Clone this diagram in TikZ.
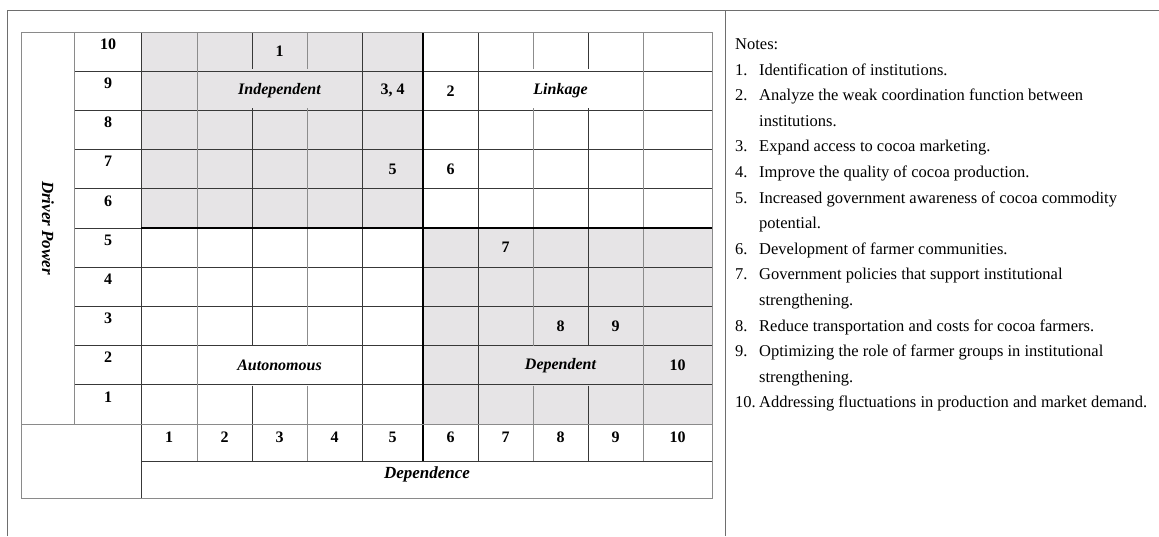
\documentclass[tikz,border=0pt]{standalone}
\usepackage{fontspec}
\setmainfont{Liberation Serif}
\usepackage{tikz}
\usetikzlibrary{positioning,calc}
\definecolor{cShade}{HTML}{E6E4E6}
\definecolor{cFrame}{HTML}{6E6E6E}
\definecolor{cBord}{HTML}{8A8A8A}
\tikzset{
  frame/.style={draw=cFrame, line width=1pt},
  tborder/.style={draw=cBord, line width=1pt},
  gline/.style={draw=black!78, line width=0.9pt},
  gthin/.style={draw=black!45, line width=0.8pt},
  gmid/.style={draw=black, line width=1.8pt},
  tnum/.style={font=\fontsize{16}{16}\selectfont\bfseries, inner sep=0pt},
  qlbl/.style={font=\fontsize{16}{16}\selectfont\bfseries\itshape, inner sep=0pt},
  atitle/.style={font=\fontsize{17}{17}\selectfont\bfseries\itshape, inner sep=0pt},
  notetxt/.style={font=\fontsize{16.5}{16.5}\selectfont, anchor=base west, inner sep=0pt},
}

\begin{document}
\begin{tikzpicture}[x=1pt,y=-1pt]
\useasboundingbox (0,0) rectangle (1159,536);
% ---- page frame
\draw[frame] (7,536) -- (7,10) -- (1159,10);
\draw[frame] (725,10) -- (725,536);
% ---- shaded quadrants
\fill[cShade] (141,32) rectangle (423,228);
\fill[cShade] (423,228) rectangle (712,424);
% ---- grid lines
\foreach \j in {1,...,9} \draw[gline] (74,{32+39.2*\j}) -- (712,{32+39.2*\j});
\foreach \x in {362,478} \draw[gline] (\x,32) -- (\x,461);
\foreach \x in {197,643} \draw[gthin] (\x,32) -- (\x,461);
% merged cells in rows 9 and 2
\foreach \x in {252,588}
  \draw[gline] (\x,32) -- (\x,69.2) (\x,108.4) -- (\x,346.4) (\x,385.6) -- (\x,461);
\foreach \x in {307,533}
  \draw[gthin] (\x,32) -- (\x,69.2) (\x,108.4) -- (\x,346.4) (\x,385.6) -- (\x,461);
\draw[gline] (141,32) -- (141,498);
\draw[gline] (141,461) -- (712,461);
\draw[gmid] (423,32) -- (423,461);
\draw[gmid] (141,228) -- (712,228);
\draw[tborder] (21,32) rectangle (712,498);
\draw[tborder] (74,32) -- (74,424);
\draw[tborder] (21,424) -- (712,424);
% ---- axis numbers
\foreach \r in {1,...,10} \node[tnum] (rl\r) at (108,{32+39.2*(10-\r)+12}) {\r};
\foreach \c/\x in {1/169,2/224.5,3/279.5,4/334.5,5/392.5,6/450.5,7/505.5,8/560.5,9/615.5,10/677.5}
  \node[tnum] (cl\c) at (\x,437) {\c};
\node[atitle, rotate=-90] (ydrv) at (48,228) {Driver Power};
\node[atitle] (xdep) at (427,474) {Dependence};
% ---- quadrant names and items
\node[qlbl] (qind) at (279.5,90.8) {Independent};
\node[qlbl] (qlink) at (560.5,90.8) {Linkage};
\node[qlbl] (qaut) at (279.5,365.2) {Autonomous};
\node[qlbl] (qdep) at (560.5,365.2) {Dependent};
\node[tnum] (p1) at (279.5,51.6) {1};
\node[tnum] (p34) at (392.5,90.8) {3, 4};
\node[tnum] (p2) at (450.5,90.8) {2};
\node[tnum] (p5) at (392.5,169.2) {5};
\node[tnum] (p6) at (450.5,169.2) {6};
\node[tnum] (p7) at (505.5,247.6) {7};
\node[tnum] (p8) at (560.5,326) {8};
\node[tnum] (p9) at (615.5,326) {9};
\node[tnum] (p10) at (677.5,365.2) {10};
% ---- notes
\node[notetxt] (nhead) at (735,49.5) {Notes:};
\foreach \k/\m in {1/1,2/2,4/3,5/4,6/5,8/6,9/7,11/8,12/9,14/10}
  \node[notetxt] (nn\m) at (735,{49.5+25.6*\k}) {\m.};
\foreach \k/\t in {1/Identification of institutions.,
    2/Analyze the weak coordination function between, 3/institutions.,
    4/Expand access to cocoa marketing., 5/Improve the quality of cocoa production.,
    6/Increased government awareness of cocoa commodity, 7/potential.,
    8/Development of farmer communities., 9/Government policies that support institutional,
    10/strengthening., 11/Reduce transportation and costs for cocoa farmers.,
    12/Optimizing the role of farmer groups in institutional, 13/strengthening.,
    14/Addressing fluctuations in production and market demand.}
  \node[notetxt] (nt\k) at (759,{49.5+25.6*\k}) {\t};
\end{tikzpicture}
\end{document}
